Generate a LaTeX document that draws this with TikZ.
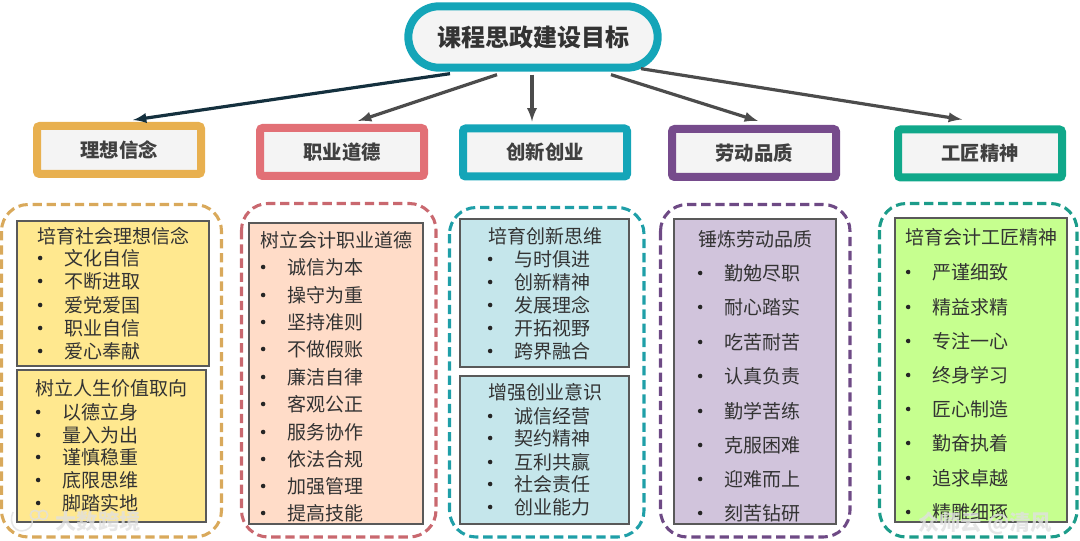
\documentclass[tikz,border=0pt]{standalone}
\usepackage{fontspec}
\setmainfont{Noto Sans CJK SC}
\usetikzlibrary{shapes.misc,shadows}
\definecolor{goldc}{HTML}{E8B04F}
\definecolor{rosec}{HTML}{E27076}
\definecolor{tealc}{HTML}{14A5B8}
\definecolor{plumc}{HTML}{764B8C}
\definecolor{jadec}{HTML}{10A88A}
\definecolor{golddash}{HTML}{D9A95B}
\definecolor{rosedash}{HTML}{C9686F}
\definecolor{tealdash}{HTML}{1F9FA8}
\definecolor{plumdash}{HTML}{6E4A85}
\definecolor{jadedash}{HTML}{1C9C8A}
\definecolor{goldfill}{HTML}{FFE88F}
\definecolor{rosefill}{HTML}{FFDCC8}
\definecolor{tealfill}{HTML}{C5E6EB}
\definecolor{plumfill}{HTML}{D1C4DC}
\definecolor{jadefill}{HTML}{C6FF8F}
\definecolor{paperc}{HTML}{F4F4F4}
\definecolor{inkc}{HTML}{404040}
\definecolor{navyc}{HTML}{14303E}
\tikzset{
	head/.style={rectangle,rounded corners=2pt,draw=#1,line width=6pt,fill=paperc,minimum width=123pt,minimum height=36pt,inner sep=0pt,text=inkc,font=\fontsize{14.5}{16}\selectfont\bfseries,general shadow={shadow xshift=-1pt,shadow yshift=1pt,fill=black!12}},
	wrap/.style={draw=#1,line width=2.3pt,dash pattern=on 7pt off 3.6pt,rounded corners=20pt},
	sheet/.style={draw=black!65,line width=0.8pt,fill=#1},
	title/.style={anchor=west,inner sep=0pt,text=black!80,font=\fontsize{14.25}{16}\selectfont},
	dotmark/.style={circle,fill=black!85,inner sep=0pt,minimum size=3.4pt,xshift=-16pt},
	itemtext/.style={title,label={[dotmark]left:{}}},
	link/.style={-latex,line width=2.4pt,draw=black!70},
	stamp/.style={inner sep=0pt,text=white!88!black,opacity=0.8,font=\fontsize{16}{18}\selectfont\bfseries},
	stampline/.style={draw=white!88!black,opacity=0.8,line width=1.2pt}
}
\begin{document}
\begin{tikzpicture}[x=0.75pt,y=-0.75pt]
	\useasboundingbox (0,0) rectangle (1080,541);
	
	\node[rounded rectangle,draw=tealc,line width=6pt,fill=paperc,minimum width=187pt,minimum height=46pt,inner sep=0pt,text=black!80,font=\fontsize{18}{20}\selectfont\bfseries,general shadow={shadow xshift=-1pt,shadow yshift=1pt,fill=black!12}] (goal) at (533,37) {课程思政建设目标};
	
	\node[head=goldc] (ideal) at (119,150) {理想信念};
	\node[head=rosec] (ethic) at (342,152) {职业道德};
	\node[head=tealc] (innov) at (545,152.5) {创新创业};
	\node[head=plumc] (labor) at (754,153) {劳动品质};
	\node[head=jadec] (craft) at (980,153.5) {工匠精神};
	
	\draw[link,draw=navyc] ([xshift=-62.25pt,yshift=-1.5pt]goal.south) -- ([xshift=10.5pt,yshift=1.5pt]ideal.north);
	\draw[link] ([xshift=-27pt,yshift=-2.25pt]goal.south) -- ([xshift=12pt,yshift=2.25pt]ethic.north);
	\draw[link] ([xshift=-0.75pt,yshift=-2.25pt]goal.south) -- ([xshift=-9.75pt,yshift=2.25pt]innov.north);
	\draw[link] ([xshift=58.5pt,yshift=-2.25pt]goal.south) -- ([xshift=3pt,yshift=3pt]labor.north);
	\draw[link] ([xshift=81pt,yshift=2.25pt]goal.south) -- ([xshift=-13.5pt,yshift=4.5pt]craft.north);
	
	\draw[wrap=golddash] (1.5,204.5) rectangle (221.5,537);
	\draw[wrap=rosedash] (241.5,203.5) rectangle (436,537);
	\draw[wrap=tealdash] (449.5,207.5) rectangle (644,537);
	\draw[wrap=plumdash] (660.5,204.5) rectangle (850,537);
	\draw[wrap=jadedash] (879.5,203.5) rectangle (1077,537);
	
	\draw[sheet=goldfill] (17,221) rectangle (209,366);
	\draw[sheet=goldfill] (17,370) rectangle (206,522);
	\draw[sheet=rosefill] (249,223) rectangle (423,524);
	\draw[sheet=tealfill] (460,219) rectangle (629,367);
	\draw[sheet=tealfill] (460,376) rectangle (629,524);
	\draw[sheet=plumfill] (674,219) rectangle (836,524);
	\draw[sheet=jadefill] (895,218) rectangle (1067,522);
	
	\node[title] (idealA) at (37,236) {培育社会理想信念};
	\node[itemtext] (idealA1) at (64,258) {文化自信};
	\node[itemtext] (idealA2) at (64,281) {不断进取};
	\node[itemtext] (idealA3) at (64,305) {爱党爱国};
	\node[itemtext] (idealA4) at (64,328) {职业自信};
	\node[itemtext] (idealA5) at (64,351) {爱心奉献};
	
	\node[title] (idealB) at (35,388) {树立人生价值取向};
	\node[itemtext] (idealB1) at (62,412) {以德立身};
	\node[itemtext] (idealB2) at (62,435) {量入为出};
	\node[itemtext] (idealB3) at (62,457) {谨慎稳重};
	\node[itemtext] (idealB4) at (62,480) {底限思维};
	\node[itemtext] (idealB5) at (62,503) {脚踏实地};
	
	\node[title] (ethicA) at (260,240) {树立会计职业道德};
	\node[itemtext] (ethicA1) at (287,267) {诚信为本};
	\node[itemtext] (ethicA2) at (287,295) {操守为重};
	\node[itemtext] (ethicA3) at (287,322) {坚持准则};
	\node[itemtext] (ethicA4) at (287,349) {不做假账};
	\node[itemtext] (ethicA5) at (287,377) {廉洁自律};
	\node[itemtext] (ethicA6) at (287,404) {客观公正};
	\node[itemtext] (ethicA7) at (287,432) {服务协作};
	\node[itemtext] (ethicA8) at (287,459) {依法合规};
	\node[itemtext] (ethicA9) at (287,486) {加强管理};
	\node[itemtext] (ethicA10) at (287,513) {提高技能};
	
	\node[title] (innovA) at (488,236) {培育创新思维};
	\node[itemtext] (innovA1) at (514,259) {与时俱进};
	\node[itemtext] (innovA2) at (514,282) {创新精神};
	\node[itemtext] (innovA3) at (514,305) {发展理念};
	\node[itemtext] (innovA4) at (514,328) {开拓视野};
	\node[itemtext] (innovA5) at (514,351) {跨界融合};
	
	\node[title] (innovB) at (488,392) {增强创业意识};
	\node[itemtext] (innovB1) at (514,416) {诚信经营};
	\node[itemtext] (innovB2) at (514,438) {契约精神};
	\node[itemtext] (innovB3) at (514,462) {互利共赢};
	\node[itemtext] (innovB4) at (514,484) {社会责任};
	\node[itemtext] (innovB5) at (514,507) {创业能力};
	
	\node[title] (laborA) at (698,239) {锤炼劳动品质};
	\node[itemtext] (laborA1) at (724,273) {勤勉尽职};
	\node[itemtext] (laborA2) at (724,307) {耐心踏实};
	\node[itemtext] (laborA3) at (724,342) {吃苦耐苦};
	\node[itemtext] (laborA4) at (724,376) {认真负责};
	\node[itemtext] (laborA5) at (724,411) {勤学苦练};
	\node[itemtext] (laborA6) at (724,445) {克服困难};
	\node[itemtext] (laborA7) at (724,479) {迎难而上};
	\node[itemtext] (laborA8) at (724,513) {刻苦钻研};
	
	\node[title] (craftA) at (905,237) {培育会计工匠精神};
	\node[itemtext] (craftA1) at (932,272) {严谨细致};
	\node[itemtext] (craftA2) at (932,307) {精益求精};
	\node[itemtext] (craftA3) at (932,341) {专注一心};
	\node[itemtext] (craftA4) at (932,375) {终身学习};
	\node[itemtext] (craftA5) at (932,409) {匠心制造};
	\node[itemtext] (craftA6) at (932,443) {勤奋执着};
	\node[itemtext] (craftA7) at (932,478) {追求卓越};
	\node[itemtext] (craftA8) at (932,512) {精雕细琢};
	
	\draw[stampline] (13,512) .. controls (8,524) and (16,534) .. (26,530) .. controls (31,528) and (33,524) .. (32,520);
	\draw[stampline] (35,515) circle (3.5pt);
	\draw[stampline] (43,515) circle (3.5pt);
	\node[stamp] (stampL) at (98,521) {大数跨境};
	\node[stamp] (stampR) at (985,523) {众师云 @清风};
	
\end{tikzpicture}
\end{document}
